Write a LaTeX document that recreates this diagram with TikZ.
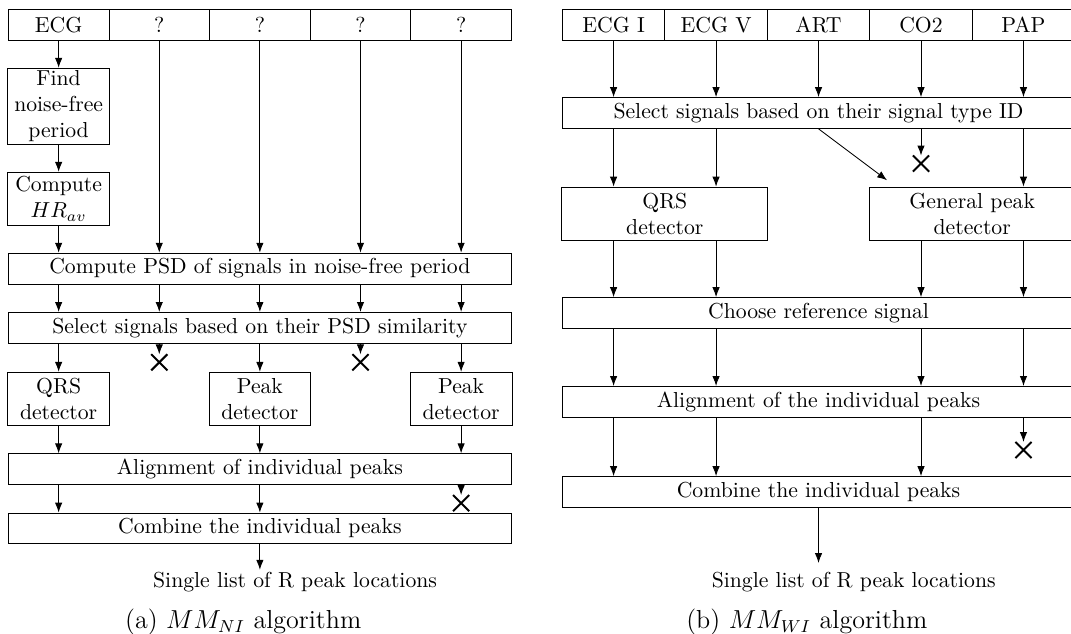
\documentclass[tikz,border=0pt]{standalone}
\usepackage{amsmath}
\usepackage{tikz}
\usetikzlibrary{arrows.meta,shapes.misc}

\begin{document}
\begin{tikzpicture}[
  box/.style={draw, align=center, inner sep=1pt},
  sig/.style={box, minimum width=1.63cm, minimum height=0.5cm},
  wide/.style={box, minimum width=8.16cm, minimum height=0.5cm},
  widr/.style={box, minimum width=8.31cm, minimum height=0.5cm},
  blk/.style={box, minimum width=1.65cm, minimum height=0.86cm},
  blkr/.style={box, minimum width=3.34cm, minimum height=0.86cm},
  rej/.style={draw, cross out, line width=0.9pt, minimum size=0.23cm, inner sep=0pt},
  arr/.style={-{Latex[length=1.6mm]}}
]
\useasboundingbox (0,0) rectangle (17.35,-10.27);

% (a) MM_NI
\node[sig] (ecg) at (0.95,-0.40) {ECG};
\node[sig] (q1)  at (2.58,-0.40) {?};
\node[sig] (q2)  at (4.21,-0.40) {?};
\node[sig] (q3)  at (5.84,-0.40) {?};
\node[sig] (q4)  at (7.47,-0.40) {?};

\node[blk, minimum height=1.23cm] (find) at (0.95,-1.72) {Find\\ noise-free\\ period};
\node[blk] (hrav) at (0.95,-3.22) {Compute\\ $HR_{av}$};
\node[wide] (psd) at (4.21,-4.35) {Compute PSD of signals in noise-free period};
\node[wide] (simsel) at (4.21,-5.31) {Select signals based on their PSD similarity};
\node[rej] (rej1) at (2.58,-5.87) {};
\node[rej] (rej2) at (5.84,-5.87) {};
\node[blk] (qrs)  at (0.95,-6.46) {QRS\\ detector};
\node[blk] (pk1)  at (4.21,-6.46) {Peak\\ detector};
\node[blk] (pk2)  at (7.47,-6.46) {Peak\\ detector};
\node[wide] (align) at (4.21,-7.60) {Alignment of individual peaks};
\node[rej] (rej3) at (7.47,-8.15) {};
\node[wide] (comb) at (4.21,-8.56) {Combine the individual peaks};
\coordinate (outa) at (4.21,-9.23);
\node (lista) at (4.78,-9.43) {Single list of R peak locations};
\node[font=\large] (capa) at (3.94,-10.08) {(a) $MM_{NI}$ algorithm};

\draw[arr] (ecg) -- (find);
\draw[arr] (find) -- (hrav);
\draw[arr] (hrav) -- (hrav |- psd.north);
\draw[arr] (q1) -- (q1 |- psd.north);
\draw[arr] (q2) -- (q2 |- psd.north);
\draw[arr] (q3) -- (q3 |- psd.north);
\draw[arr] (q4) -- (q4 |- psd.north);
\draw[arr] (psd.south -| ecg) -- (simsel.north -| ecg);
\draw[arr] (psd.south -| q1) -- (simsel.north -| q1);
\draw[arr] (psd.south -| q2) -- (simsel.north -| q2);
\draw[arr] (psd.south -| q3) -- (simsel.north -| q3);
\draw[arr] (psd.south -| q4) -- (simsel.north -| q4);
\draw[arr] (simsel.south -| qrs) -- (qrs);
\draw[arr] (simsel.south -| rej1) -- (rej1.north);
\draw[arr] (simsel.south -| pk1) -- (pk1);
\draw[arr] (simsel.south -| rej2) -- (rej2.north);
\draw[arr] (simsel.south -| pk2) -- (pk2);
\draw[arr] (qrs) -- (qrs |- align.north);
\draw[arr] (pk1) -- (pk1 |- align.north);
\draw[arr] (pk2) -- (pk2 |- align.north);
\draw[arr] (align.south -| qrs) -- (comb.north -| qrs);
\draw[arr] (align.south -| pk1) -- (comb.north -| pk1);
\draw[arr] (align.south -| rej3) -- (rej3.north);
\draw[arr] (comb) -- (outa);

% (b) MM_WI
\node[sig, minimum width=1.66cm] (ecgi) at (9.94,-0.40) {ECG I};
\node[sig, minimum width=1.66cm] (ecgv) at (11.60,-0.40) {ECG V};
\node[sig, minimum width=1.66cm] (art)  at (13.26,-0.40) {ART};
\node[sig, minimum width=1.66cm] (co2)  at (14.92,-0.40) {CO2};
\node[sig, minimum width=1.66cm] (pap)  at (16.58,-0.40) {PAP};

\node[widr] (idsel) at (13.26,-1.83) {Select signals based on their signal type ID};
\node[rej] (rej4) at (14.92,-2.65) {};
\coordinate (genin) at (14.37,-2.92);
\node[blkr] (qrsb) at (10.77,-3.46) {QRS\\ detector};
\node[blkr] (gen)  at (15.75,-3.46) {General peak\\ detector};
\node[widr] (ref) at (13.26,-5.07) {Choose reference signal};
\node[widr] (alignb) at (13.26,-6.51) {Alignment of the individual peaks};
\node[rej] (rej5) at (16.58,-7.29) {};
\node[widr] (combb) at (13.26,-7.97) {Combine the individual peaks};
\coordinate (outb) at (13.26,-9.12);
\node (listb) at (13.83,-9.43) {Single list of R peak locations};
\node[font=\large] (capb) at (13.07,-10.08) {(b) $MM_{WI}$ algorithm};

\draw[arr] (ecgi) -- (ecgi |- idsel.north);
\draw[arr] (ecgv) -- (ecgv |- idsel.north);
\draw[arr] (art) -- (art |- idsel.north);
\draw[arr] (co2) -- (co2 |- idsel.north);
\draw[arr] (pap) -- (pap |- idsel.north);
\draw[arr] (idsel.south -| ecgi) -- (qrsb.north -| ecgi);
\draw[arr] (idsel.south -| ecgv) -- (qrsb.north -| ecgv);
\draw[arr] (idsel.south) -- (genin);
\draw[arr] (idsel.south -| rej4) -- (rej4.north);
\draw[arr] (idsel.south -| pap) -- (gen.north -| pap);
\draw[arr] (qrsb.south -| ecgi) -- (ref.north -| ecgi);
\draw[arr] (qrsb.south -| ecgv) -- (ref.north -| ecgv);
\draw[arr] (gen.south -| co2) -- (ref.north -| co2);
\draw[arr] (gen.south -| pap) -- (ref.north -| pap);
\draw[arr] (ref.south -| ecgi) -- (alignb.north -| ecgi);
\draw[arr] (ref.south -| ecgv) -- (alignb.north -| ecgv);
\draw[arr] (ref.south -| co2) -- (alignb.north -| co2);
\draw[arr] (ref.south -| pap) -- (alignb.north -| pap);
\draw[arr] (alignb.south -| ecgi) -- (combb.north -| ecgi);
\draw[arr] (alignb.south -| ecgv) -- (combb.north -| ecgv);
\draw[arr] (alignb.south -| co2) -- (combb.north -| co2);
\draw[arr] (alignb.south -| rej5) -- (rej5.north);
\draw[arr] (combb) -- (outb);
\end{tikzpicture}
\end{document}
